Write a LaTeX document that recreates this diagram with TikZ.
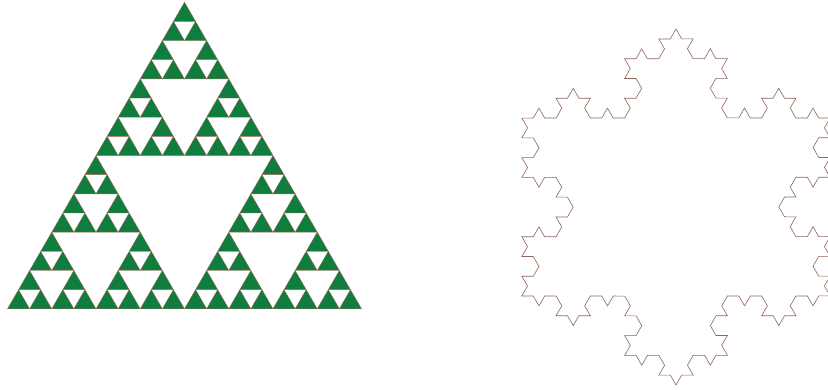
\documentclass[tikz,border=0pt]{standalone}
\usetikzlibrary{decorations.fractals}
\definecolor{sgreen}{RGB}{14,125,62}
\definecolor{sedge}{RGB}{170,100,90}
\definecolor{kline}{RGB}{140,100,90}
\tikzset{
  sierp/.style={fill=sgreen, draw=sedge, line width=0.35pt, line join=miter},
  koch/.style={draw=kline, line width=0.6pt, line join=miter, decoration=Koch snowflake}
}
\begin{document}
\begin{tikzpicture}[x=1pt,y=-1pt]
\useasboundingbox (0,0) rectangle (828,390);
% Sierpinski triangle, level 4
\def\S{354}
\def\X{7.5}
\def\Y{308.8}
\pgfmathsetmacro{\T}{\S/16}
\foreach \a in {0,1,2}{
 \foreach \b in {0,1,2}{
  \foreach \c in {0,1,2}{
   \foreach \d in {0,1,2}{
    \pgfmathsetmacro{\px}{\X + \S/2*{0,1,0.5}[\a] + \S/4*{0,1,0.5}[\b] + \S/8*{0,1,0.5}[\c] + \S/16*{0,1,0.5}[\d]}
    \pgfmathsetmacro{\py}{\Y - 0.8660254*(\S/2*{0,0,1}[\a] + \S/4*{0,0,1}[\b] + \S/8*{0,0,1}[\c] + \S/16*{0,0,1}[\d])}
    \path[sierp] (\px,\py) -- ++(\T,0) -- ++(-\T/2,-0.8660254*\T) -- cycle;
   }}}}
% Koch snowflake, level 3
\coordinate (k1) at (676,29);
\coordinate (k2) at (830.2,296);
\coordinate (k3) at (521.8,296);
\draw[koch] decorate{decorate{decorate{ (k1) -- (k2) -- (k3) -- (k1) }}};
\end{tikzpicture}
\end{document}
